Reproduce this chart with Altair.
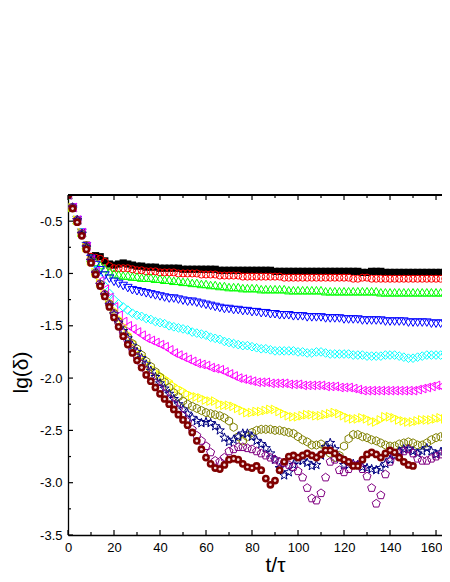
import altair as alt
import pandas as pd

T = list(range(0, 167, 2))
T_WINE = list(range(0, 151, 2))

black = [
    -0.25, -0.37, -0.49, -0.61, -0.73, -0.84, -0.83, -0.84, -0.88, -0.91,
    -0.92, -0.91, -0.90, -0.91, -0.92, -0.93, -0.93, -0.94, -0.94, -0.94,
    -0.95, -0.95, -0.95, -0.95, -0.95, -0.96, -0.96, -0.96, -0.96, -0.96,
    -0.96, -0.96, -0.96, -0.97, -0.97, -0.97, -0.97, -0.97, -0.97, -0.97,
    -0.97, -0.97, -0.97, -0.97, -0.97, -0.98, -0.98, -0.98, -0.98, -0.98,
    -0.98, -0.98, -0.98, -0.98, -0.98, -0.98, -0.98, -0.98, -0.98, -0.98,
    -0.98, -0.98, -0.98, -0.98, -0.99, -0.99, -0.98, -0.98, -0.98, -0.99,
    -0.99, -0.99, -0.99, -0.99, -0.99, -0.99, -0.99, -0.99, -0.99, -0.99,
    -0.99, -0.99, -0.99, -0.99]
red = [
    -0.25, -0.37, -0.49, -0.61, -0.73, -0.84, -0.85, -0.86, -0.89, -0.93,
    -0.95, -0.95, -0.95, -0.95, -0.96, -0.97, -0.97, -0.98, -0.98, -0.98,
    -0.99, -0.99, -0.99, -0.99, -1.00, -1.00, -1.00, -1.00, -1.00, -1.01,
    -1.01, -1.01, -1.01, -1.02, -1.02, -1.02, -1.02, -1.02, -1.03, -1.03,
    -1.03, -1.03, -1.03, -1.03, -1.03, -1.03, -1.03, -1.04, -1.04, -1.04,
    -1.04, -1.04, -1.04, -1.04, -1.04, -1.04, -1.04, -1.04, -1.04, -1.04,
    -1.04, -1.04, -1.05, -1.05, -1.04, -1.04, -1.05, -1.05, -1.05, -1.05,
    -1.05, -1.05, -1.05, -1.05, -1.05, -1.05, -1.05, -1.05, -1.05, -1.05,
    -1.05, -1.05, -1.05, -1.05]
green = [
    -0.25, -0.37, -0.49, -0.61, -0.73, -0.85, -0.89, -0.92, -0.95, -0.98,
    -1.00, -1.01, -1.02, -1.02, -1.03, -1.03, -1.04, -1.04, -1.04, -1.05,
    -1.05, -1.06, -1.06, -1.07, -1.07, -1.08, -1.08, -1.09, -1.09, -1.10,
    -1.10, -1.11, -1.11, -1.12, -1.12, -1.13, -1.13, -1.13, -1.14, -1.14,
    -1.14, -1.14, -1.15, -1.15, -1.15, -1.15, -1.15, -1.15, -1.16, -1.16,
    -1.16, -1.16, -1.16, -1.16, -1.16, -1.16, -1.17, -1.17, -1.17, -1.17,
    -1.17, -1.17, -1.17, -1.17, -1.17, -1.17, -1.17, -1.17, -1.18, -1.18,
    -1.18, -1.18, -1.18, -1.18, -1.18, -1.18, -1.18, -1.18, -1.18, -1.18,
    -1.18, -1.18, -1.18, -1.18]
blue = [
    -0.25, -0.37, -0.49, -0.61, -0.74, -0.86, -0.92, -0.97, -1.02, -1.05,
    -1.08, -1.10, -1.12, -1.14, -1.16, -1.17, -1.18, -1.19, -1.20, -1.21,
    -1.22, -1.23, -1.24, -1.24, -1.25, -1.26, -1.27, -1.27, -1.28, -1.29,
    -1.30, -1.31, -1.32, -1.33, -1.34, -1.34, -1.35, -1.35, -1.36, -1.36,
    -1.37, -1.37, -1.38, -1.38, -1.39, -1.39, -1.40, -1.40, -1.40, -1.41,
    -1.41, -1.41, -1.42, -1.42, -1.42, -1.42, -1.43, -1.43, -1.43, -1.43,
    -1.44, -1.44, -1.44, -1.44, -1.45, -1.45, -1.45, -1.45, -1.45, -1.46,
    -1.46, -1.46, -1.46, -1.46, -1.47, -1.47, -1.47, -1.47, -1.47, -1.48,
    -1.48, -1.48, -1.48, -1.48]
cyan = [
    -0.25, -0.37, -0.49, -0.61, -0.74, -0.87, -0.97, -1.05, -1.12, -1.19,
    -1.25, -1.29, -1.32, -1.35, -1.38, -1.40, -1.41, -1.43, -1.44, -1.46,
    -1.47, -1.48, -1.50, -1.51, -1.52, -1.53, -1.54, -1.56, -1.57, -1.58,
    -1.59, -1.61, -1.62, -1.63, -1.65, -1.66, -1.67, -1.68, -1.69, -1.69,
    -1.70, -1.71, -1.72, -1.72, -1.73, -1.74, -1.74, -1.74, -1.74, -1.74,
    -1.75, -1.75, -1.76, -1.76, -1.75, -1.75, -1.76, -1.77, -1.77, -1.77,
    -1.77, -1.77, -1.78, -1.78, -1.78, -1.79, -1.79, -1.79, -1.79, -1.78,
    -1.78, -1.78, -1.79, -1.80, -1.81, -1.81, -1.80, -1.79, -1.78, -1.78,
    -1.78, -1.78, -1.77, -1.77]
magenta = [
    -0.25, -0.37, -0.49, -0.61, -0.74, -0.87, -0.98, -1.07, -1.15, -1.23,
    -1.32, -1.40, -1.46, -1.50, -1.53, -1.56, -1.59, -1.62, -1.64, -1.66,
    -1.68, -1.70, -1.73, -1.76, -1.78, -1.80, -1.82, -1.84, -1.86, -1.87,
    -1.88, -1.90, -1.91, -1.92, -1.94, -1.96, -1.98, -2.00, -2.01, -2.02,
    -2.03, -2.04, -2.04, -2.04, -2.05, -2.05, -2.05, -2.05, -2.06, -2.06,
    -2.06, -2.07, -2.07, -2.07, -2.07, -2.07, -2.08, -2.08, -2.08, -2.09,
    -2.09, -2.09, -2.10, -2.11, -2.12, -2.12, -2.12, -2.12, -2.12, -2.12,
    -2.12, -2.12, -2.12, -2.12, -2.12, -2.12, -2.11, -2.10, -2.09, -2.08,
    -2.07, -2.08, -2.10, -2.12]
yellow = [
    -0.25, -0.37, -0.49, -0.61, -0.75, -0.88, -0.99, -1.09, -1.18, -1.27,
    -1.35, -1.43, -1.50, -1.58, -1.66, -1.73, -1.79, -1.85, -1.90, -1.94,
    -1.97, -2.00, -2.03, -2.07, -2.10, -2.12, -2.15, -2.17, -2.18, -2.19,
    -2.21, -2.22, -2.22, -2.25, -2.26, -2.26, -2.27, -2.29, -2.31, -2.33,
    -2.33, -2.32, -2.32, -2.31, -2.30, -2.30, -2.32, -2.34, -2.36, -2.37,
    -2.37, -2.36, -2.35, -2.35, -2.36, -2.36, -2.35, -2.34, -2.33, -2.34,
    -2.36, -2.38, -2.39, -2.39, -2.38, -2.39, -2.41, -2.42, -2.40, -2.37,
    -2.37, -2.38, -2.40, -2.41, -2.42, -2.42, -2.41, -2.40, -2.40, -2.40,
    -2.39, -2.38, -2.39, -2.40]
olive = [
    -0.25, -0.37, -0.49, -0.62, -0.75, -0.88, -1.00, -1.10, -1.20, -1.29,
    -1.38, -1.46, -1.54, -1.61, -1.67, -1.72, -1.78, -1.84, -1.89, -1.94,
    -1.99, -2.04, -2.09, -2.14, -2.18, -2.22, -2.25, -2.27, -2.29, -2.31,
    -2.33, -2.34, -2.35, -2.36, -2.38, -2.41, -2.47, -2.56, -2.60, -2.56,
    -2.52, -2.50, -2.49, -2.49, -2.49, -2.50, -2.50, -2.51, -2.52, -2.53,
    -2.56, -2.59, -2.61, -2.64, -2.64, -2.63, -2.66, -2.72, -2.76, -2.74,
    -2.65, -2.58, -2.54, -2.54, -2.56, -2.57, -2.59, -2.60, -2.62, -2.64,
    -2.65, -2.65, -2.63, -2.62, -2.61, -2.62, -2.64, -2.64, -2.62, -2.59,
    -2.57, -2.56, -2.55, -2.53]
navy = [
    -0.25, -0.37, -0.49, -0.62, -0.75, -0.88, -1.00, -1.11, -1.21, -1.30,
    -1.39, -1.47, -1.55, -1.62, -1.69, -1.75, -1.81, -1.87, -1.93, -1.99,
    -2.05, -2.10, -2.15, -2.20, -2.25, -2.30, -2.34, -2.38, -2.41, -2.43,
    -2.42, -2.43, -2.46, -2.50, -2.57, -2.61, -2.59, -2.56, -2.53, -2.53,
    -2.56, -2.60, -2.63, -2.67, -2.72, -2.78, -2.86, -2.93, -2.90, -2.83,
    -2.79, -2.79, -2.81, -2.84, -2.83, -2.74, -2.66, -2.62, -2.68, -2.76,
    -2.83, -2.83, -2.82, -2.83, -2.85, -2.86, -2.87, -2.88, -2.86, -2.82,
    -2.78, -2.74, -2.70, -2.68, -2.68, -2.70, -2.72, -2.70, -2.67, -2.70,
    -2.73, -2.71, -2.68, -2.66]
purple = [
    -0.25, -0.37, -0.49, -0.62, -0.74, -0.87, -0.99, -1.10, -1.20, -1.30,
    -1.39, -1.48, -1.57, -1.65, -1.73, -1.80, -1.87, -1.93, -1.99, -2.05,
    -2.10, -2.15, -2.20, -2.25, -2.30, -2.36, -2.42, -2.49, -2.55, -2.60,
    -2.65, -2.71, -2.79, -2.80, -2.76, -2.70, -2.68, -2.66, -2.66, -2.67,
    -2.68, -2.70, -2.72, -2.74, -2.76, -2.78, -2.80, -2.81, -2.83, -2.85,
    -2.89, -2.95, -3.05, -3.15, -3.17, -3.10, -2.95, -2.80, -2.78, -2.88,
    -2.90, -2.87, -2.83, -2.83, -2.87, -2.94, -3.05, -3.20, -3.12, -2.92,
    -2.80, -2.74, -2.72, -2.70, -2.68, -2.72, -2.77, -2.79, -2.79, -2.77,
    -2.75, -2.73, -2.72, -2.71]
wine = [
    -0.25, -0.38, -0.51, -0.64, -0.77, -0.90, -1.01, -1.12, -1.22, -1.32,
    -1.42, -1.51, -1.60, -1.68, -1.76, -1.83, -1.90, -1.97, -2.03, -2.09,
    -2.15, -2.20, -2.25, -2.30, -2.35, -2.40, -2.45, -2.52, -2.60, -2.68,
    -2.76, -2.82, -2.86, -2.87, -2.83, -2.78, -2.77, -2.78, -2.82, -2.85,
    -2.86, -2.84, -2.88, -2.96, -3.02, -2.98, -2.88, -2.80, -2.75, -2.74,
    -2.76, -2.74, -2.72, -2.74, -2.76, -2.73, -2.69, -2.69, -2.72, -2.76,
    -2.78, -2.80, -2.84, -2.84, -2.78, -2.73, -2.71, -2.73, -2.76, -2.72,
    -2.69, -2.71, -2.76, -2.80, -2.83, -2.84]

X_MAJOR = [0, 20, 40, 60, 80, 100, 120, 140, 160]
X_MINOR = [10, 30, 50, 70, 90, 110, 130, 150]
Y_MAJOR = [-3.5, -3.0, -2.5, -2.0, -1.5, -1.0, -0.5]
Y_MINOR = [-3.25, -2.75, -2.25, -1.75, -1.25, -0.75]

HEXAGON = "M0,-1L0.866,-0.5L0.866,0.5L0,1L-0.866,0.5L-0.866,-0.5Z"
PENTAGON = "M0,-1L0.951,-0.309L0.588,0.809L-0.588,0.809L-0.951,-0.309Z"
STAR = ("M0,-1L0.235,-0.324L0.951,-0.309L0.380,0.124L0.588,0.809L0,0.4"
        "L-0.588,0.809L-0.380,0.124L-0.951,-0.309L-0.235,-0.324Z")

SERIES = [
    (black, T, "#000000", "square", True, 52),
    (red, T, "#ff0000", "circle", False, 50),
    (green, T, "#00ff00", "triangle-up", False, 75),
    (blue, T, "#0000ff", "triangle-down", False, 75),
    (cyan, T, "#00ffff", "diamond", False, 75),
    (magenta, T, "#ff00ff", "triangle-left", False, 75),
    (yellow, T, "#ffff00", "triangle-right", False, 75),
    (olive, T, "#808000", HEXAGON, False, 68),
    (navy, T, "#000080", STAR, False, 90),
    (purple, T, "#800080", PENTAGON, False, 72),
    (wine, T_WINE, "#800000", "circle", True, 60),
]

W, H = 374, 340
FONT = "Liberation Sans"
xscale = alt.Scale(domain=[0, 162.6], nice=False, zero=False)
yscale = alt.Scale(domain=[-3.5, -0.25], nice=False, zero=False)

xaxis = alt.Axis(values=X_MAJOR, title="t/τ", ticks=False, tickSize=0, grid=False,
                 labelFont=FONT, labelFontSize=13, labelColor="black", labelPadding=6,
                 labelFlush=False, labelOverlap=False, domainColor="black", domainWidth=1.3,
                 labelOffset={"condition": {"test": "datum.value == 160", "value": -5}, "value": 0},
                 titleFont=FONT, titleFontSize=21, titleFontWeight="normal", titleColor="black",
                 titleX=207, titleY=36, titleBaseline="alphabetic", titleAlign="center")
yaxis = alt.Axis(values=Y_MAJOR, title="lg(δ)", ticks=False, tickSize=0, grid=False,
                 labelFont=FONT, labelFontSize=13, labelColor="black", labelPadding=6,
                 labelFlush=False, labelOverlap=False, domainColor="black", domainWidth=1.3,
                 labelExpr="datum.value < 0 ? '-' + format(-datum.value, '.1f') : format(datum.value, '.1f')",
                 titleFont=FONT, titleFontSize=21, titleFontWeight="normal", titleColor="black",
                 titleX=-41, titleY=177, titleAngle=270, titleBaseline="alphabetic",
                 titleAlign="center")

X = alt.X("t:Q", scale=xscale, axis=xaxis)
Y = alt.Y("v:Q", scale=yscale, axis=yaxis)

layers = []
for vals, ts, color, shape, filled, size in SERIES:
    df = pd.DataFrame({"t": ts, "v": vals})
    layers.append(
        alt.Chart(df).mark_point(shape=shape, filled=filled, color=color, size=size,
                                 strokeWidth=1, opacity=1, clip=True).encode(x=X, y=Y)
    )
    if shape == "circle" and filled:
        layers.append(
            alt.Chart(df).mark_point(shape="circle", filled=True, color="#f3dede", size=7,
                                     opacity=1, clip=True).encode(x=X, y=Y)
        )

xmaj = pd.DataFrame({"t": X_MAJOR})
xmin = pd.DataFrame({"t": X_MINOR})
ymaj = pd.DataFrame({"v": Y_MAJOR})
ymin = pd.DataFrame({"v": Y_MINOR})
rule = dict(color="black", strokeWidth=1.2)

layers += [
    alt.Chart(xmaj).mark_rule(**rule).encode(x=X, y=alt.value(H), y2=alt.value(H - 5)),
    alt.Chart(xmin).mark_rule(**rule).encode(x=X, y=alt.value(H), y2=alt.value(H - 3)),
    alt.Chart(xmaj).mark_rule(**rule).encode(x=X, y=alt.value(0), y2=alt.value(5)),
    alt.Chart(xmin).mark_rule(**rule).encode(x=X, y=alt.value(0), y2=alt.value(3)),
    alt.Chart(ymaj).mark_rule(**rule).encode(y=Y, x=alt.value(0), x2=alt.value(5)),
    alt.Chart(ymin).mark_rule(**rule).encode(y=Y, x=alt.value(0), x2=alt.value(3)),
    alt.Chart(xmaj).mark_rule(color="black", strokeWidth=1.3).encode(
        x=alt.value(0), x2=alt.value(W), y=alt.value(0)),
]

chart = alt.layer(*layers).properties(
    width=W, height=H,
    autosize=alt.AutoSizeParams(type="none"),
    padding={"left": 60, "top": 187, "right": 0, "bottom": 39},
    background="white",
).configure_view(strokeWidth=0, stroke="transparent")

chart.save("out.html", embed_options={"renderer": "svg", "actions": False})
